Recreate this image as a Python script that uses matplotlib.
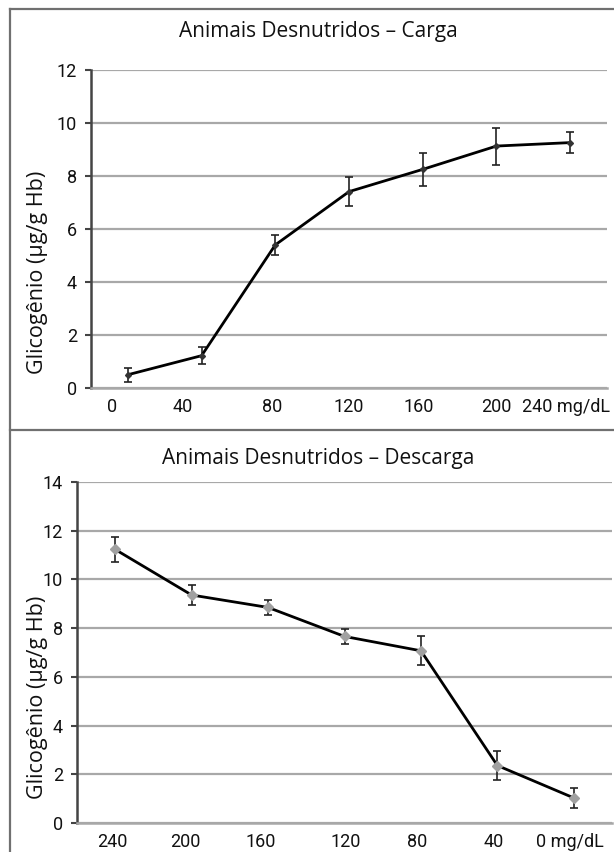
import matplotlib
matplotlib.use('Agg')
from matplotlib import pyplot as plt
from matplotlib.lines import Line2D

# data
carga_labels = ['0', '40', '80', '120', '160', '200', '240 mg/dL']
carga_vals = [0.5, 1.22, 5.4, 7.41, 8.25, 9.13, 9.26]
carga_err = [0.27, 0.33, 0.38, 0.55, 0.63, 0.7, 0.4]

descarga_labels = ['240', '200', '160', '120', '80', '40', '0 mg/dL']
descarga_vals = [11.23, 9.36, 8.85, 7.66, 7.07, 2.36, 1.03]
descarga_err = [0.5, 0.4, 0.3, 0.3, 0.6, 0.6, 0.4]

W, H = 614, 852
fig = plt.figure(figsize=(W / 100, H / 100), dpi=100)

tick_font = ['Roboto', 'DejaVu Sans']
text_font = ['Open Sans', 'DejaVu Sans']


def fx(x):
    return x / W


def fy(y):
    return 1 - y / H


def panel(rect, labels, vals, err, ymax, title, title_y, ylab_y, mcolor, msize, label_shift):
    ax = fig.add_axes(rect)
    x = list(range(len(vals)))
    ax.errorbar(x, vals, yerr=err, color='black', lw=2, marker='D', ms=msize,
                mfc=mcolor, mec=mcolor, ecolor='#222222', elinewidth=1.2,
                capsize=3, capthick=1.2, zorder=3)
    ax.set_xlim(-0.5, len(vals) - 0.5)
    ax.set_ylim(0, ymax)
    ax.set_yticks(range(0, ymax + 1, 2))
    ax.yaxis.grid(True, color='#a8a8a8', lw=1.6)
    ax.set_axisbelow(True)
    ax.set_xticks([i + s for i, s in zip(x, label_shift)])
    ax.set_xticklabels(labels, family=tick_font, fontsize=13, color='#111111')
    ax.tick_params(axis='x', length=0, pad=7)
    ax.tick_params(axis='y', length=4, width=1.5, color='#444444', pad=6)
    for t in ax.get_yticklabels():
        t.set_family(tick_font)
        t.set_fontsize(13)
        t.set_color('#111111')
    for s in ['top', 'right']:
        ax.spines[s].set_visible(False)
    ax.spines['left'].set_color('#444444')
    ax.spines['left'].set_linewidth(1.8)
    ax.spines['bottom'].set_color('#a8a8a8')
    ax.spines['bottom'].set_linewidth(1.8)
    fig.text(0.518, fy(title_y), title, ha='center', va='center',
             family=text_font, fontsize=15, color='#111111')
    fig.text(fx(38), fy(ylab_y), 'Glicogênio (µg/g Hb)', rotation=90,
             ha='center', va='center', family=text_font, fontsize=15.5,
             color='#111111')
    return ax


panel([fx(91), fy(388), fx(607 - 91), (388 - 70) / H],
      carga_labels, carga_vals, carga_err, 12,
      'Animais Desnutridos – Carga', 32, 272, '#333333', 3,
      [-0.22, -0.25, -0.04, 0, -0.05, 0, -0.06])

panel([fx(77), fy(823), fx(612 - 77), (823 - 482) / H],
      descarga_labels, descarga_vals, descarga_err, 14,
      'Animais Desnutridos – Descarga', 459, 697, '#a0a0a0', 5,
      [-0.04, -0.08, -0.1, 0.02, -0.05, -0.05, -0.05])

# frame around the two panels
border = dict(color='#707070', lw=1.6, transform=fig.transFigure)
fig.lines.append(Line2D([fx(10), fx(10)], [0, fy(9)], **border))
fig.lines.append(Line2D([fx(10), 1], [fy(9), fy(9)], **border))
fig.lines.append(Line2D([fx(10), 1], [fy(430), fy(430)], **border))

fig.savefig('out.png', dpi=100)
